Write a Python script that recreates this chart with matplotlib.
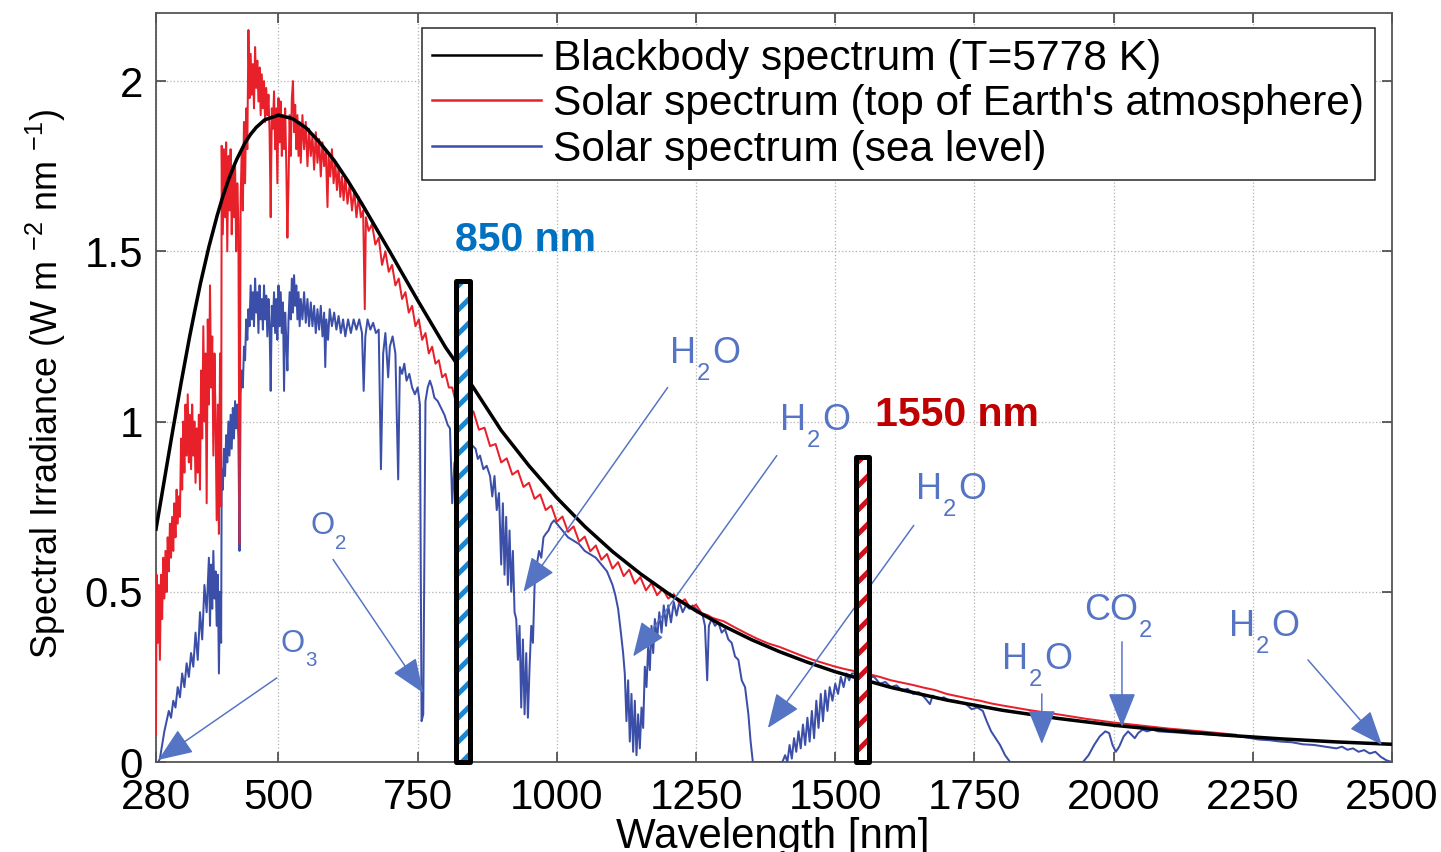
import matplotlib
matplotlib.use("Agg")
import matplotlib.pyplot as plt

# ---- data ----
bb_wl = [280, 290, 300, 310, 325, 340, 350, 360, 375, 390, 400, 410, 420, 425, 440, 450, 460,
         475, 500, 525, 550, 575, 600, 625, 650, 700, 750, 800, 850, 900, 950, 1000, 1050,
         1100, 1150, 1200, 1250, 1300, 1350, 1400, 1450, 1500, 1600, 1700, 1800, 1900, 2000,
         2100, 2200, 2300, 2400, 2500]
bb_val = [0.684, 0.780, 0.877, 0.973, 1.113, 1.246, 1.328, 1.407, 1.513, 1.606, 1.661, 1.709,
          1.751, 1.770, 1.819, 1.844, 1.864, 1.886, 1.900, 1.890, 1.862, 1.818, 1.767, 1.706,
          1.639, 1.499, 1.356, 1.218, 1.100, 0.974, 0.870, 0.776, 0.692, 0.618, 0.553, 0.495,
          0.444, 0.399, 0.359, 0.324, 0.293, 0.265, 0.219, 0.182, 0.152, 0.128, 0.108, 0.092,
          0.079, 0.068, 0.059, 0.052]

toa_wl = [280, 281, 283, 285, 287, 289, 291, 293, 295, 297, 299, 301, 303, 305, 307, 309, 311,
          313, 315, 317, 319, 321, 323, 325, 327, 329, 331, 333, 335, 337, 339, 341, 343, 345,
          347, 349, 351, 353, 355, 357, 359, 361, 363, 365, 367, 369, 371, 373, 375, 377, 379,
          381, 383, 385, 387, 389, 391, 393, 395, 397, 398, 400, 402, 404, 406, 408, 410, 412,
          414, 416, 418, 420, 422, 424, 426, 428, 430, 432, 434, 436, 438, 440, 442, 444, 446,
          448, 450, 452, 454, 456, 458, 460, 462, 464, 466, 468, 470, 472, 474, 476, 478, 480,
          482, 484, 486, 488, 490, 492, 494, 496, 498, 500, 502, 504, 506, 508, 510, 512, 514,
          516, 518, 520, 522, 524, 526, 528, 530, 532, 534, 536, 538, 540, 543, 546, 549, 552,
          555, 558, 561, 564, 567, 570, 573, 576, 579, 582, 585, 588, 590, 593, 596, 599, 602,
          605, 608, 611, 614, 617, 620, 624, 628, 632, 636, 640, 644, 648, 652, 655, 657, 662,
          668, 674, 680, 686, 692, 698, 704, 710, 716, 722, 728, 734, 740, 746, 752, 758, 764,
          770, 776, 782, 788, 794, 800, 806, 812, 818, 826, 834, 842,
          850, 860, 870, 880, 890, 900, 910, 920, 930, 940, 950, 960, 970, 980, 990, 1000, 1010,
          1020, 1030, 1040, 1050, 1060, 1070, 1080, 1090, 1100, 1110, 1120, 1130, 1140, 1150,
          1160, 1170, 1180, 1190, 1200, 1210, 1220, 1230, 1240, 1250, 1260, 1270, 1280, 1290,
          1300, 1320, 1340, 1360, 1380, 1400, 1420, 1440, 1460, 1480, 1500, 1520, 1540, 1560,
          1580, 1600, 1620, 1640, 1660, 1680, 1700, 1720, 1740, 1760, 1780, 1800, 1850, 1900,
          1950, 2000, 2050, 2100, 2150, 2200, 2220]
toa_val = [0.08, 0.55, 0.35, 0.52, 0.30, 0.55, 0.42, 0.60, 0.48, 0.62, 0.50, 0.66, 0.56, 0.70,
           0.60, 0.72, 0.62, 0.76, 0.66, 0.80, 0.70, 0.78, 0.72, 0.95, 0.80, 1.00, 0.85, 1.05,
           0.90, 1.08, 0.88, 1.02, 0.86, 1.05, 0.90, 1.00, 0.82, 0.98, 0.85, 1.02, 0.80, 1.15,
           0.95, 1.28, 1.00, 1.20, 0.76, 1.30, 1.05, 1.40, 1.10, 1.25, 0.90, 1.20, 1.00, 0.71,
           1.05, 0.67, 1.20, 0.75, 1.81, 1.55, 1.80, 1.60, 1.82, 1.50, 1.78, 1.62, 1.80, 1.55,
           1.74, 1.60, 1.76, 1.50, 1.70, 1.58, 0.64, 1.65, 1.80, 1.62, 1.88, 1.70, 1.92, 1.80,
           2.15, 1.95, 2.08, 1.96, 2.05, 1.92, 2.10, 1.98, 2.06, 1.94, 2.04, 1.90, 2.02, 1.92,
           2.00, 1.88, 1.98, 1.90, 1.96, 1.85, 1.60, 1.92, 1.86, 1.97, 1.80, 1.92, 1.70, 1.95,
           1.82, 1.94, 1.78, 1.90, 1.80, 1.92, 1.75, 1.54, 1.70, 1.90, 1.78, 1.95, 2.00, 1.85,
           1.93, 1.80, 1.90, 1.78, 1.88, 1.76, 1.90, 1.80, 1.88, 1.75, 1.86, 1.78, 1.84, 1.74,
           1.85, 1.76, 1.83, 1.72, 1.82, 1.75, 1.80, 1.63, 1.78, 1.72, 1.80, 1.70, 1.76, 1.68,
           1.75, 1.66, 1.72, 1.65, 1.72, 1.64, 1.70, 1.62, 1.68, 1.60, 1.66, 1.60, 1.62, 1.33,
           1.60, 1.56, 1.58, 1.52, 1.54, 1.46, 1.50, 1.44, 1.46, 1.40, 1.42, 1.36, 1.38, 1.32,
           1.34, 1.28, 1.30, 1.24, 1.26, 1.20, 1.22, 1.17, 1.18, 1.13, 1.14, 1.10, 1.10, 1.06,
           1.04, 1.02, 1.01,
           1.030, 0.976, 0.982, 0.928, 0.934, 0.880, 0.892, 0.844, 0.856, 0.808, 0.820, 0.773,
           0.786, 0.740, 0.753, 0.706, 0.721, 0.676, 0.692, 0.647, 0.662, 0.619, 0.636, 0.594,
           0.611, 0.568, 0.587, 0.546, 0.565, 0.524, 0.543, 0.504, 0.526, 0.490, 0.509, 0.480,
           0.493, 0.466, 0.478, 0.451, 0.462, 0.437, 0.432, 0.423, 0.418, 0.413, 0.395, 0.378,
           0.362, 0.348, 0.338, 0.325, 0.312, 0.300, 0.290, 0.280, 0.272, 0.265, 0.258, 0.250,
           0.240, 0.233, 0.226, 0.218, 0.211, 0.200, 0.193, 0.186, 0.180, 0.172, 0.166, 0.152,
           0.140, 0.127, 0.116, 0.107, 0.098, 0.091, 0.083, 0.080]

sea_wl = [280, 284, 287, 291, 295, 299, 303, 307, 311, 315, 319, 323, 327, 331, 335, 339, 343,
          347, 351, 355, 359, 363, 367, 371, 375, 377, 379, 381, 383, 385, 387, 389, 391, 393,
          395, 397, 398, 400, 402, 404, 406, 408, 410, 412, 414, 416, 418, 420, 422, 424, 426,
          428, 430, 432, 434, 436, 438, 440, 442, 444, 446, 448, 450, 452, 454, 456, 458, 460,
          462, 464, 466, 468, 470, 472, 474, 476, 478, 480, 482, 484, 486, 488, 490, 492, 494,
          496, 498, 500, 502, 504, 506, 508, 510, 512, 514, 516, 518, 520, 522, 524, 526, 528,
          530, 532, 534, 536, 538, 540, 543, 546, 549, 552, 555, 558, 561, 564, 567, 570, 573,
          576, 579, 582, 584, 586, 589, 592, 596, 600, 604, 608, 612, 616, 620, 625, 630, 635,
          640, 645, 650, 653, 656, 660, 665, 670, 675, 680, 684, 688, 692, 697, 700, 705, 710,
          715, 718, 722, 726, 730, 735, 740, 745, 750, 754, 757, 760, 762, 764, 768, 772, 776,
          780, 786, 792, 798, 804, 808, 812, 816, 822, 830, 840, 848, 854, 858, 862, 868, 874,
          880, 884, 888, 892, 896, 900, 903, 906, 909, 912, 915, 918, 921, 924, 927, 930, 933,
          936, 939, 942, 945, 948, 951, 954, 957, 960, 964, 968, 972, 976, 980, 985, 990, 995,
          1000, 1010, 1020, 1030, 1040, 1050, 1060, 1070, 1080, 1090, 1100, 1105, 1110, 1115,
          1119, 1122, 1125, 1128, 1131, 1134, 1137, 1140, 1143, 1146, 1149, 1152, 1155, 1158,
          1161, 1164, 1167, 1170, 1173, 1176, 1180, 1184, 1188, 1192, 1196, 1200, 1205, 1210,
          1215, 1220, 1226, 1232, 1238, 1244, 1250, 1256, 1262, 1266, 1270, 1273, 1278, 1284,
          1290, 1296, 1302, 1308, 1314, 1320, 1326, 1332, 1338, 1344, 1348, 1352, 1405, 1410,
          1414, 1418, 1422, 1426, 1430, 1434, 1438, 1442, 1446, 1450, 1454, 1458, 1462, 1466,
          1470, 1474, 1478, 1482, 1486, 1490, 1495, 1500, 1505, 1510, 1515, 1520, 1525, 1530,
          1540, 1550, 1560, 1570, 1580, 1590, 1600, 1610, 1620, 1630, 1640, 1650, 1660, 1670,
          1675, 1685, 1695, 1705, 1715, 1725, 1735, 1745, 1755, 1765, 1772, 1780, 1788, 1796,
          1805, 1814, 1945, 1955, 1965, 1975, 1985, 1992, 1998, 2004, 2010, 2018, 2026, 2032,
          2038, 2044, 2052, 2060, 2070, 2080, 2100, 2120, 2140, 2160, 2180, 2200, 2220, 2240,
          2260, 2280, 2300, 2320, 2340, 2360, 2380, 2400, 2410, 2420, 2430, 2440, 2450, 2460,
          2470, 2480, 2490, 2500]
sea_val = [0.0, 0.0, 0.01, 0.05, 0.09, 0.12, 0.15, 0.13, 0.18, 0.16, 0.22, 0.19, 0.26, 0.22,
           0.29, 0.25, 0.32, 0.28, 0.38, 0.30, 0.44, 0.36, 0.52, 0.44, 0.60, 0.40, 0.58, 0.45,
           0.62, 0.48, 0.56, 0.40, 0.55, 0.26, 0.50, 0.35, 0.86, 0.80, 0.92, 0.84, 0.96, 0.88,
           1.00, 0.90, 1.02, 0.92, 1.04, 0.95, 1.06, 0.98, 1.05, 0.95, 0.62, 1.08, 1.15, 1.10,
           1.22, 1.18, 1.30, 1.24, 1.33, 1.28, 1.40, 1.30, 1.38, 1.28, 1.42, 1.32, 1.38, 1.26,
           1.40, 1.30, 1.36, 1.27, 1.40, 1.30, 1.37, 1.25, 1.36, 1.28, 1.09, 1.34, 1.28, 1.38,
           1.26, 1.36, 1.24, 1.40, 1.28, 1.38, 1.26, 1.35, 1.09, 1.32, 1.24, 1.15, 1.30, 1.38,
           1.30, 1.42, 1.32, 1.43, 1.34, 1.40, 1.30, 1.38, 1.28, 1.36, 1.30, 1.38, 1.29, 1.36,
           1.28, 1.35, 1.28, 1.34, 1.26, 1.33, 1.27, 1.34, 1.25, 1.32, 1.16, 1.30, 1.24, 1.33,
           1.28, 1.32, 1.27, 1.31, 1.26, 1.30, 1.25, 1.30, 1.26, 1.30, 1.27, 1.30, 1.26, 1.09,
           1.25, 1.30, 1.27, 1.29, 1.26, 1.27, 0.86, 1.20, 1.26, 1.13, 1.22, 1.25, 1.20, 0.83,
           1.16, 1.14, 1.17, 1.12, 1.14, 1.10, 1.08, 1.10, 1.05, 0.12, 0.14, 0.60, 1.06, 1.10,
           1.12, 1.10, 1.07, 1.06, 1.04, 1.02, 0.99, 0.98, 0.76, 0.88, 0.85, 0.82, 0.88, 0.93,
           0.92, 0.89, 0.90, 0.86, 0.87, 0.84, 0.78, 0.84, 0.74, 0.79, 0.58, 0.76, 0.55, 0.72,
           0.52, 0.68, 0.50, 0.62, 0.44, 0.42, 0.30, 0.40, 0.16, 0.36, 0.14, 0.32, 0.13, 0.28,
           0.40, 0.35, 0.52, 0.58, 0.62, 0.60, 0.66, 0.67, 0.68, 0.70, 0.71, 0.70, 0.68, 0.66,
           0.65, 0.64, 0.62, 0.61, 0.60, 0.58, 0.56, 0.52, 0.49, 0.45, 0.38, 0.32, 0.26, 0.12,
           0.24, 0.06, 0.20, 0.03, 0.18, 0.02, 0.14, 0.04, 0.16, 0.10, 0.28, 0.22, 0.34, 0.27,
           0.40, 0.32, 0.42, 0.36, 0.44, 0.38, 0.46, 0.40, 0.46, 0.41, 0.47, 0.43, 0.47, 0.44,
           0.46, 0.45, 0.46, 0.45, 0.44, 0.43, 0.40, 0.24, 0.40, 0.42, 0.40, 0.41, 0.38, 0.39,
           0.36, 0.35, 0.31, 0.30, 0.24, 0.22, 0.14, 0.06, 0.0, 0.0, 0.02, 0.0, 0.05, 0.01,
           0.07, 0.03, 0.09, 0.04, 0.11, 0.05, 0.13, 0.06, 0.15, 0.07, 0.18, 0.10, 0.20, 0.12,
           0.21, 0.15, 0.22, 0.18, 0.23, 0.20, 0.25, 0.22, 0.26, 0.24, 0.26, 0.26, 0.25, 0.25,
           0.25, 0.23, 0.235, 0.22, 0.225, 0.21, 0.215, 0.20, 0.205, 0.19, 0.17, 0.195, 0.185,
           0.19, 0.18, 0.18, 0.175, 0.17, 0.155, 0.16, 0.15, 0.12, 0.09, 0.07, 0.05, 0.02, 0.0,
           0.0, 0.02, 0.05, 0.075, 0.09, 0.085, 0.05, 0.03, 0.045, 0.075, 0.09, 0.08, 0.07,
           0.085, 0.095, 0.09, 0.095, 0.09, 0.088, 0.086, 0.083, 0.082, 0.080, 0.078, 0.076,
           0.072, 0.066, 0.064, 0.06, 0.058, 0.052, 0.05, 0.045, 0.04, 0.045, 0.036, 0.04,
           0.03, 0.035, 0.025, 0.03, 0.015, 0.005, 0.0]

series_labels = ["Blackbody spectrum (T=5778 K)",
                 "Solar spectrum (top of Earth's atmosphere)",
                 "Solar spectrum (sea level)"]

# highlighted wavelengths
bar_centers = [831, 1549]
bar_heights = [1.412, 0.897]
bar_labels = ["850 nm", "1550 nm"]
bar_label_pos = [(817, 1.532), (1571, 1.019)]
bar_colors = ["#1a86d0", "#d0101c"]
bar_text_colors = ["#0070c0", "#c00000"]

# absorption annotations: (text, subscript, text) pieces, left/baseline anchor, arrow
gas_parts = [("O", "3", ""), ("O", "2", ""), ("H", "2", "O"), ("H", "2", "O"),
             ("H", "2", "O"), ("H", "2", "O"), ("CO", "2", ""), ("H", "2", "O")]
gas_sizes = [31, 31, 36, 36, 36, 36, 36, 36]
gas_text_xy = [(503, 0.324), (557, 0.669), (1203, 1.172), (1401, 0.975),
               (1645, 0.772), (1799, 0.274), (1947, 0.418), (2207, 0.371)]
gas_arrow_from = [(497, 0.247), (598, 0.595), (1199, 1.10), (1395, 0.90),
                  (1641, 0.695), (1871, 0.20), (2015, 0.353), (2349, 0.30)]
gas_arrow_to = [(284, 0.006), (760, 0.203), (940, 0.50), (1137, 0.31),
                (1379, 0.10), (1871, 0.053), (2015, 0.103), (2482, 0.05)]

x_ticks = [280, 500, 750, 1000, 1250, 1500, 1750, 2000, 2250, 2500]
y_ticks = [0, 0.5, 1, 1.5, 2]
y_ticklabels = ["0", "0.5", "1", "1.5", "2"]

# ---- style ----
plt.rcParams["font.family"] = ["Liberation Sans", "DejaVu Sans"]
plt.rcParams["mathtext.default"] = "regular"
plt.rcParams["hatch.linewidth"] = 5.0

BLACK = "#000000"
RED = "#e8202a"
BLUE = "#3b4fa9"
ANNOT = "#5574c4"

DPI = 72
fig = plt.figure(figsize=(1441 / DPI, 852 / DPI), dpi=DPI)
ax = fig.add_axes([156 / 1441, 90 / 852, 1236 / 1441, 749 / 852])
ax.set_xlim(280, 2500)
ax.set_ylim(0, 2.2)

l_sea, = ax.plot(sea_wl, sea_val, color=BLUE, lw=2.0, zorder=3, label=series_labels[2])
l_toa, = ax.plot(toa_wl, toa_val, color=RED, lw=2.0, zorder=4, label=series_labels[1])
l_bb, = ax.plot(bb_wl, bb_val, color=BLACK, lw=3.5, zorder=5, label=series_labels[0])

# gas absorption labels (subscript dropped well below the baseline) + arrows
renderer = fig.canvas.get_renderer()
for parts, fs, txy, a0, a1 in zip(gas_parts, gas_sizes, gas_text_xy,
                                  gas_arrow_from, gas_arrow_to):
    main1, sub, main2 = parts
    t1 = ax.text(txy[0], txy[1], main1, color=ANNOT, fontsize=fs, ha="left",
                 va="baseline", zorder=6)
    w1 = t1.get_window_extent(renderer).width
    t2 = ax.annotate(sub, xy=txy, xytext=(w1 + 1, -0.47 * fs), textcoords="offset points",
                     color=ANNOT, fontsize=fs * 0.66, ha="left", va="baseline", zorder=6)
    w2 = t2.get_window_extent(renderer).width
    if main2:
        ax.annotate(main2, xy=txy, xytext=(w1 + w2 + 3, 0), textcoords="offset points",
                    color=ANNOT, fontsize=fs, ha="left", va="baseline", zorder=6)
    ax.annotate("", xy=a1, xytext=a0, zorder=6,
                arrowprops=dict(arrowstyle="-|>,head_length=0.75,head_width=0.3",
                                color=ANNOT, lw=1.5, mutation_scale=40,
                                shrinkA=0, shrinkB=0))

# hatched bars marking 850 nm and 1550 nm
bar_width = 25
for xc, h, c in zip(bar_centers, bar_heights, bar_colors):
    ax.bar([xc], [h], width=bar_width, color="white", edgecolor=c, hatch="/",
           linewidth=0, zorder=7)
    ax.bar([xc], [h], width=bar_width, fill=False, edgecolor="black", linewidth=5,
           zorder=8, clip_on=False, joinstyle="round")
for lab, (tx, ty), c in zip(bar_labels, bar_label_pos, bar_text_colors):
    ax.text(tx, ty, lab, color=c, fontsize=41, fontweight="bold", ha="left", va="center",
            zorder=9)

ax.set_xticks(x_ticks)
ax.set_yticks(y_ticks)
ax.set_yticklabels(y_ticklabels)
ax.tick_params(axis="both", direction="in", length=10, width=1.5, labelsize=42,
               top=True, right=True, colors="#333333", labelcolor="black")
ax.tick_params(axis="x", pad=16)
ax.tick_params(axis="y", pad=13)
ax.grid(True, linestyle=":", color="#b5b5b5", linewidth=1.3)
ax.set_axisbelow(True)
for s in ax.spines.values():
    s.set_color("#555555")
    s.set_linewidth(1.8)

ax.set_xlabel("Wavelength [nm]", fontsize=42, va="top")
ax.xaxis.set_label_coords(0.499, -0.073)
ax.set_ylabel("Spectral Irradiance (W m $^{-2}$ nm $^{-1}$)", fontsize=36)
ax.yaxis.set_label_coords(-0.071, 0.505)

leg = ax.legend(handles=[l_bb, l_toa, l_sea], loc="upper right",
                bbox_to_anchor=(0.9862, 0.980), borderaxespad=0, fontsize=42.5,
                frameon=True, fancybox=False, framealpha=1, edgecolor="#222222",
                handlelength=2.55, handletextpad=0.3, labelspacing=0.13, borderpad=0.25)
leg.get_frame().set_linewidth(1.5)
leg.set_zorder(10)
for ln in leg.get_lines():
    ln.set_linewidth(2.5)

fig.savefig("out.png", dpi=DPI)
